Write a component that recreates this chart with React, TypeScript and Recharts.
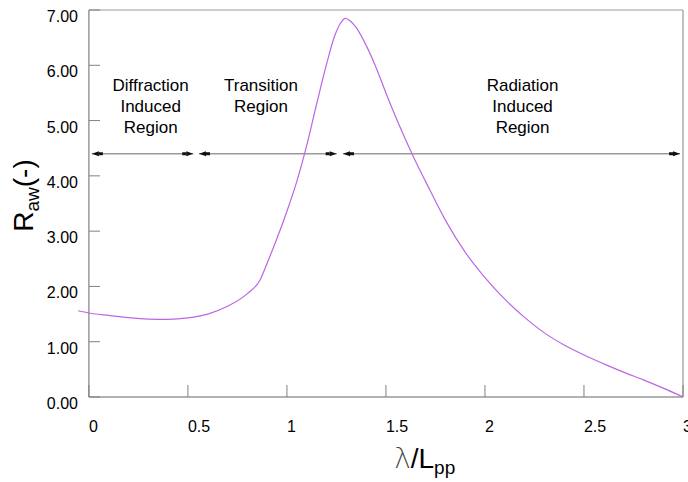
import React from 'react';
import { LineChart, Line, XAxis, YAxis, ReferenceLine, ReferenceDot, Label } from 'recharts';

// Added wave resistance coefficient against wave length ratio
const waveLength = [
  -0.055, 0, 0.1, 0.2, 0.3, 0.4, 0.5, 0.6, 0.7, 0.8, 0.865, 0.9, 0.95, 1.0, 1.05, 1.1, 1.15,
  1.2, 1.24, 1.27, 1.295, 1.32, 1.35, 1.4, 1.45, 1.5, 1.55, 1.6, 1.65, 1.7, 1.8, 1.9, 2.0,
  2.1, 2.2, 2.3, 2.4, 2.5, 2.6, 2.7, 2.8, 2.9, 3.0,
];
const raw = [
  1.56, 1.52, 1.475, 1.435, 1.41, 1.405, 1.43, 1.5, 1.64, 1.87, 2.12, 2.42, 2.87, 3.36, 3.9, 4.55, 5.3,
  6.02, 6.52, 6.76, 6.85, 6.8, 6.68, 6.36, 5.96, 5.5, 5.06, 4.65, 4.26, 3.9, 3.2, 2.62, 2.16,
  1.77, 1.44, 1.16, 0.94, 0.76, 0.6, 0.45, 0.31, 0.16, 0.0,
];

const xTicks = [0, 0.5, 1, 1.5, 2, 2.5, 3];
const xTickLabels = ['0', '0.5', '1', '1.5', '2', '2.5', '3'];
const yTicks = [0, 1, 2, 3, 4, 5, 6, 7];
const yTickLabels = ['0.00', '1.00', '2.00', '3.00', '4.00', '5.00', '6.00', '7.00'];

const regionNames = ['diffraction', 'transition', 'radiation'];
const regionStart = [0.015, 0.556, 1.283];
const regionEnd = [0.527, 1.251, 2.985];
const regionLabelX = [0.312, 0.869, 2.19];
const regionLines = [
  ['Diffraction', 'Induced', 'Region'],
  ['Transition', 'Region'],
  ['Radiation', 'Induced', 'Region'],
];
const regionArrowLevel = 4.4;
const regionLabelLevel = 5.53;

const data = waveLength.map((x, i) => ({ x, raw: raw[i] }));

const FONT = '"Liberation Sans", Arial, sans-serif';
const X_MIN = -0.055;
const AXIS_GRAY = '#808080';

const XTick = (props: any) => {
  const { x, y, payload } = props;
  const idx = xTicks.indexOf(payload.value);
  return (
    <g>
      <line x1={x} y1={y} x2={x} y2={y - 12} stroke={AXIS_GRAY} strokeWidth={1} />
      <text x={x} y={y + 35} textAnchor="start" fontSize={16} fontFamily={FONT} fill="#000">
        {xTickLabels[idx]}
      </text>
    </g>
  );
};

const YTick = (props: any) => {
  const { x, y, payload } = props;
  const idx = yTicks.indexOf(payload.value);
  return (
    <g>
      <line x1={x + 11} y1={y} x2={x + 22} y2={y} stroke={AXIS_GRAY} strokeWidth={1} />
      <text x={x} y={y + 12} textAnchor="end" fontSize={16} fontFamily={FONT} fill="#000">
        {yTickLabels[idx]}
      </text>
    </g>
  );
};

const XTitle = (props: any) => {
  const vb = props.viewBox;
  const cx = vb.x + vb.width * 0.573;
  return (
    <text x={cx} y={vb.y + 71} textAnchor="middle" fontSize={28} fontFamily={FONT} fill="#000">
      <tspan fontFamily='"DejaVu Sans", sans-serif' fontWeight={200} fill="#444">λ</tspan>
      <tspan>/L</tspan>
      <tspan fontSize={19} dy={6}>pp</tspan>
    </text>
  );
};

const YTitle = (props: any) => {
  const vb = props.viewBox;
  const cy = vb.y + vb.height / 2 - 8;
  return (
    <text
      transform={`translate(33, ${cy}) rotate(-90)`}
      textAnchor="middle"
      fontSize={28}
      fontFamily={FONT}
      fill="#000"
    >
      <tspan>R</tspan>
      <tspan fontSize={19} dy={6}>aw</tspan>
      <tspan dy={-6}>(-)</tspan>
    </text>
  );
};

const arrowShape = (p: any) => {
  const { x1, y1, x2 } = p;
  const y = y1;
  return (
    <g>
      <line x1={x1} y1={y} x2={x2} y2={y} stroke="#999" strokeWidth={1.5} />
      <polygon points={`${x1},${y} ${x1 + 7},${y - 2.5} ${x1 + 7},${y + 2.5}`} fill="#111" />
      <rect x={x1 + 7} y={y - 1.5} width={4} height={3} fill="#111" />
      <polygon points={`${x2},${y} ${x2 - 7},${y - 2.5} ${x2 - 7},${y + 2.5}`} fill="#111" />
      <rect x={x2 - 11} y={y - 1.5} width={4} height={3} fill="#111" />
    </g>
  );
};

const regionText = (lines: string[]) => (p: any) => (
  <text x={p.cx} y={p.cy} textAnchor="middle" fontSize={17} fontFamily={FONT} fill="#000">
    {lines.map((t, i) => (
      <tspan key={i} x={p.cx} y={p.cy + i * 21}>
        {t}
      </tspan>
    ))}
  </text>
);

export default function App() {
  return (
    <div style={{ position: 'absolute', left: 0, top: 0, background: '#fff' }}>
      <LineChart width={688} height={482} data={data} margin={{ top: 10, right: 5, bottom: 0, left: 0 }}>
        <XAxis
          dataKey="x"
          type="number"
          domain={[X_MIN, 3]}
          allowDataOverflow
          ticks={xTicks}
          interval={0}
          height={85}
          axisLine={false}
          tickLine={false}
          tickSize={0}
          tickMargin={0}
          tick={XTick}
        >
          <Label content={XTitle} />
        </XAxis>
        <YAxis
          type="number"
          domain={[0, 7]}
          allowDataOverflow
          ticks={yTicks}
          interval={0}
          width={78}
          axisLine={false}
          tickLine={false}
          tickSize={0}
          tickMargin={0}
          tick={YTick}
        >
          <Label content={YTitle} />
        </YAxis>

        {/* plot frame */}
        <ReferenceLine x={0} stroke={AXIS_GRAY} strokeWidth={1.2} />
        <ReferenceLine x={3} stroke="#999" strokeWidth={1.2} />
        <ReferenceLine segment={[{ x: 0, y: 7 }, { x: 3, y: 7 }]} stroke="#999" strokeWidth={1.2} />
        <ReferenceLine segment={[{ x: 0, y: 0 }, { x: 3, y: 0 }]} stroke="#666" strokeWidth={1.2} />

        {/* region extents */}
        {regionNames.map((name, i) => (
          <ReferenceLine
            key={name}
            segment={[
              { x: regionStart[i], y: regionArrowLevel },
              { x: regionEnd[i], y: regionArrowLevel },
            ]}
            shape={arrowShape}
          />
        ))}
        {regionNames.map((name, i) => (
          <ReferenceDot
            key={`${name}-label`}
            x={regionLabelX[i]}
            y={regionLabelLevel}
            r={1}
            shape={regionText(regionLines[i])}
          />
        ))}

        <Line
          dataKey="raw"
          type="monotone"
          stroke="#bb66e6"
          strokeWidth={1.2}
          dot={false}
          isAnimationActive={false}
        />
      </LineChart>
    </div>
  );
}
